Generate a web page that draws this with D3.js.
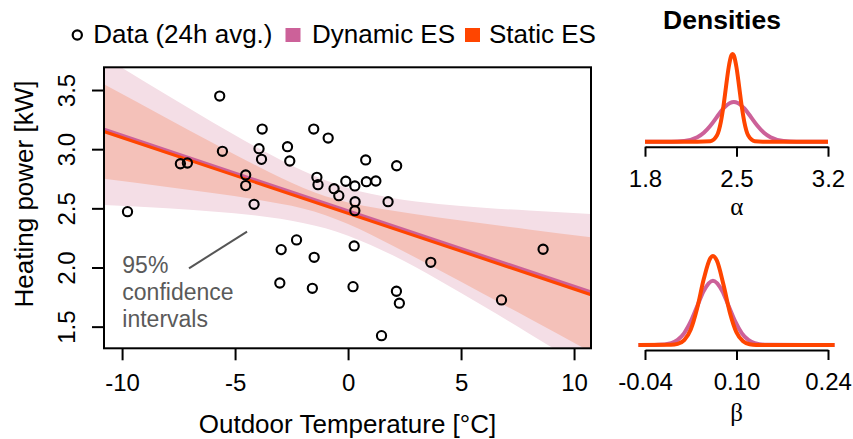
<!DOCTYPE html>
<html>
<head>
<meta charset="utf-8">
<script src="https://cdn.jsdelivr.net/npm/d3@7"></script>
<style>
  html, body { margin: 0; padding: 0; background: #fff; }
  svg { display: block; font-family: "Liberation Sans", Arial, Helvetica, sans-serif; }
</style>
</head>
<body>
<div id="chart"></div>
<script>
// ---- data ----
const tempC = [-9.76, -7.42, -7.11, -5.68, -5.56, -4.53, -4.53, -4.16, -3.94, -3.83, -3.80,
  -3.02, -2.96, -2.68, -2.58, -2.28, -1.58, -1.52, -1.50, -1.38, -1.33, -0.88, -0.62, -0.41,
  -0.10, 0.22, 0.27, 0.30, 0.30, 0.31, 0.78, 0.81, 1.23, 1.48, 1.77, 2.14, 2.15, 2.27, 3.66,
  6.79, 8.63];
const powerKW = [2.472, 2.877, 2.883, 3.449, 2.982, 2.782, 2.692, 2.534, 3.004, 2.914, 3.170,
  1.869, 2.151, 3.021, 2.900, 2.233, 1.824, 3.170, 2.086, 2.762, 2.700, 3.094, 2.666, 2.607,
  2.729, 1.838, 2.182, 2.689, 2.480, 2.556, 2.909, 2.725, 2.731, 1.424, 2.556, 1.799, 2.860,
  1.698, 2.044, 1.726, 2.154];

// fitted lines (two ends of the plotted range)
const lineT = [-10.8, 10.75];
const dynamicLine = [3.162, 1.787];
const staticLine = [3.149, 1.770];

// 95% bands
const bandT = [-10.8, -8, -6, -4, -2, -1, 0, 2, 4, 6, 8, 10.75];
const dynamicLower = [2.529, 2.501, 2.474, 2.437, 2.377, 2.331, 2.269, 2.101, 1.895, 1.673, 1.443, 1.121];
const dynamicUpper = [3.781, 3.455, 3.228, 3.011, 2.817, 2.737, 2.671, 2.585, 2.537, 2.505, 2.481, 2.453];
const staticLower = [2.749, 2.680, 2.629, 2.572, 2.498, 2.442, 2.367, 2.181, 1.981, 1.776, 1.570, 1.285];
const staticUpper = [3.549, 3.260, 3.055, 2.856, 2.674, 2.602, 2.549, 2.479, 2.423, 2.372, 2.322, 2.255];

// posterior densities
const alphaStaticX = [1.8, 2.2, 2.3, 2.35, 2.38, 2.40, 2.42, 2.44, 2.46, 2.47, 2.48, 2.50, 2.52, 2.54, 2.56, 2.59, 2.64, 2.7, 3.2];
const alphaStaticD = [0, 0, 0.04, 0.53, 1.70, 3.07, 4.79, 6.43, 7.46, 7.6, 7.46, 6.43, 4.79, 3.07, 1.70, 0.53, 0.04, 0, 0];
const alphaDynamicX = [1.8, 2.0, 2.1, 2.2, 2.25, 2.3, 2.35, 2.4, 2.45, 2.48, 2.51, 2.56, 2.61, 2.66, 2.71, 2.76, 2.86, 2.96, 3.2];
const alphaDynamicD = [0, 0.005, 0.06, 0.38, 0.77, 1.38, 2.14, 2.88, 3.36, 3.45, 3.36, 2.88, 2.14, 1.38, 0.77, 0.38, 0.06, 0.005, 0];
const betaStaticX = [-0.05, 0.0, 0.01, 0.02, 0.03, 0.04, 0.05, 0.06, 0.064, 0.07, 0.08, 0.09, 0.1, 0.11, 0.12, 0.13, 0.25];
const betaStaticD = [0, 0.05, 0.27, 1.18, 3.82, 9.18, 16.29, 21.38, 21.9, 20.74, 14.88, 7.89, 3.09, 0.90, 0.19, 0.03, 0];
const betaDynamicX = [-0.05, -0.02, 0.0, 0.01, 0.02, 0.03, 0.04, 0.05, 0.064, 0.078, 0.088, 0.098, 0.108, 0.118, 0.128, 0.148, 0.25];
const betaDynamicD = [0, 0.04, 0.45, 1.26, 2.94, 5.79, 9.58, 13.33, 15.8, 13.33, 9.58, 5.79, 2.94, 1.26, 0.45, 0.04, 0];

const xTicks = [-10, -5, 0, 5, 10];
const yTicks = [1.5, 2.0, 2.5, 3.0, 3.5];
const alphaTicks = [1.8, 2.5, 3.2];
const betaTicks = [-0.04, 0.10, 0.24];

const PINK = "#cc6199", ORANGE = "#ff4500";
const PINK_BAND = "#f4dee6", ORANGE_BAND = "#f4c1b9";
const W = 853, H = 439;

const svg = d3.select("#chart").append("svg").attr("width", W).attr("height", H);

// ---- main panel ----
const x = d3.scaleLinear().domain([-10.8, 10.75]).range([104, 591]);
const y = d3.scaleLinear().domain([1.317, 3.692]).range([348.3, 67.3]);

svg.append("clipPath").attr("id", "plotclip")
  .append("rect").attr("x", 104).attr("y", 67.3).attr("width", 487).attr("height", 281);

const plot = svg.append("g").attr("clip-path", "url(#plotclip)");

const band = (lo, hi) => d3.area()
  .x((d, i) => x(bandT[i]))
  .y0((d, i) => y(lo[i]))
  .y1((d, i) => y(hi[i]))
  .curve(d3.curveMonotoneX)(bandT);

plot.append("path").attr("d", band(dynamicLower, dynamicUpper)).attr("fill", PINK_BAND);
plot.append("path").attr("d", band(staticLower, staticUpper)).attr("fill", ORANGE_BAND);

const fit = vals => d3.line().x((d, i) => x(lineT[i])).y((d, i) => y(vals[i]))(lineT);
plot.append("path").attr("d", fit(dynamicLine)).attr("stroke", PINK).attr("stroke-width", 4.5).attr("fill", "none");
plot.append("path").attr("d", fit(staticLine)).attr("stroke", ORANGE).attr("stroke-width", 3).attr("fill", "none");

plot.selectAll(".pt").data(tempC).enter().append("circle")
  .attr("cx", d => x(d))
  .attr("cy", (d, i) => y(powerKW[i]))
  .attr("r", 4.6)
  .attr("fill", "none").attr("stroke", "#000").attr("stroke-width", 2.1);

// annotation
svg.append("line")
  .attr("x1", x(-7.04)).attr("y1", y(1.993))
  .attr("x2", x(-4.47)).attr("y2", y(2.303))
  .attr("stroke", "#555").attr("stroke-width", 2);
const ann = svg.append("text").attr("fill", "#5a5a5a").attr("font-size", 23);
["95%", "confidence", "intervals"].forEach((s, i) => {
  ann.append("tspan").attr("x", 122.3).attr("y", 272.7 + i * 27).text(s);
});

// axes
const xAxis = svg.append("g").attr("transform", "translate(0,348.3)")
  .call(d3.axisBottom(x).tickValues(xTicks).tickSize(12).tickFormat(d => String(d)));
const yAxis = svg.append("g").attr("transform", "translate(104,0)")
  .call(d3.axisLeft(y).tickValues(yTicks).tickSize(12).tickFormat(d => d.toFixed(1)));
[xAxis, yAxis].forEach(a => {
  a.select(".domain").remove();
  a.selectAll("line").attr("stroke", "#000").attr("stroke-width", 2);
  a.selectAll("text").attr("fill", "#000").attr("font-size", 24)
    .attr("font-family", "Liberation Sans, Arial, sans-serif");
});
xAxis.selectAll("text").attr("y", 42.4).attr("dy", 0);
yAxis.selectAll("text").attr("transform", "rotate(-90)")
  .attr("x", 0).attr("y", -29).attr("dy", 0).attr("text-anchor", "middle");

svg.append("rect").attr("x", 104).attr("y", 67.3).attr("width", 487).attr("height", 281)
  .attr("fill", "none").attr("stroke", "#000").attr("stroke-width", 2);

svg.append("text").attr("x", 347.5).attr("y", 433).attr("text-anchor", "middle")
  .attr("font-size", 26).text("Outdoor Temperature [°C]");
svg.append("text").attr("transform", "translate(33,194) rotate(-90)").attr("text-anchor", "middle")
  .attr("font-size", 26).text("Heating power [kW]");

// legend
svg.append("circle").attr("cx", 77.3).attr("cy", 35).attr("r", 4.6)
  .attr("fill", "none").attr("stroke", "#000").attr("stroke-width", 2.2);
svg.append("text").attr("x", 93.3).attr("y", 43.3).attr("font-size", 26).text("Data (24h avg.)");
svg.append("rect").attr("x", 285.5).attr("y", 28).attr("width", 15).attr("height", 14).attr("fill", PINK);
svg.append("text").attr("x", 312).attr("y", 43.3).attr("font-size", 26).text("Dynamic ES");
svg.append("rect").attr("x", 465).attr("y", 28).attr("width", 15).attr("height", 14).attr("fill", ORANGE);
svg.append("text").attr("x", 489).attr("y", 43.3).attr("font-size", 26).text("Static ES");

// ---- density panels ----
svg.append("text").attr("x", 722).attr("y", 29.3).attr("text-anchor", "middle")
  .attr("font-size", 26.5).attr("font-weight", "bold").text("Densities");

function densityPanel(dom, ticks, fmt, yMax, base, peakY, axisY, series, label, labelY) {
  const sx = d3.scaleLinear().domain(dom).range([645, 828]);
  const sy = d3.scaleLinear().domain([0, yMax]).range([base, peakY]);
  series.forEach(s => {
    svg.append("path")
      .attr("d", d3.line().x((d, i) => sx(s.x[i])).y((d, i) => sy(s.d[i])).curve(d3.curveMonotoneX)(s.x))
      .attr("fill", "none").attr("stroke", s.color).attr("stroke-width", 4)
      .attr("stroke-linejoin", "round");
  });
  const ax = svg.append("g").attr("transform", `translate(0,${axisY})`)
    .call(d3.axisBottom(sx).tickValues(ticks).tickSize(10).tickSizeOuter(0).tickFormat(fmt));
  ax.select(".domain").attr("stroke", "#000").attr("stroke-width", 2);
  ax.selectAll("line").attr("stroke", "#000").attr("stroke-width", 2);
  ax.selectAll("text").attr("fill", "#000").attr("font-size", 24).attr("y", 40).attr("dy", 0)
    .attr("font-family", "Liberation Sans, Arial, sans-serif");
  svg.append("text").attr("x", 736.7).attr("y", labelY).attr("text-anchor", "middle")
    .attr("font-family", "Liberation Serif, DejaVu Serif, serif").attr("font-size", 25).text(label);
}

densityPanel([1.8, 3.2], alphaTicks, d => d.toFixed(1), 7.6, 141.7, 54, 146.7, [
  { x: alphaDynamicX, d: alphaDynamicD, color: PINK },
  { x: alphaStaticX, d: alphaStaticD, color: ORANGE }
], "α", 215);

densityPanel([-0.04, 0.24], betaTicks, d => d.toFixed(2), 21.9, 345, 256, 350, [
  { x: betaDynamicX, d: betaDynamicD, color: PINK },
  { x: betaStaticX, d: betaStaticD, color: ORANGE }
], "β", 421);
</script>
</body>
</html>
